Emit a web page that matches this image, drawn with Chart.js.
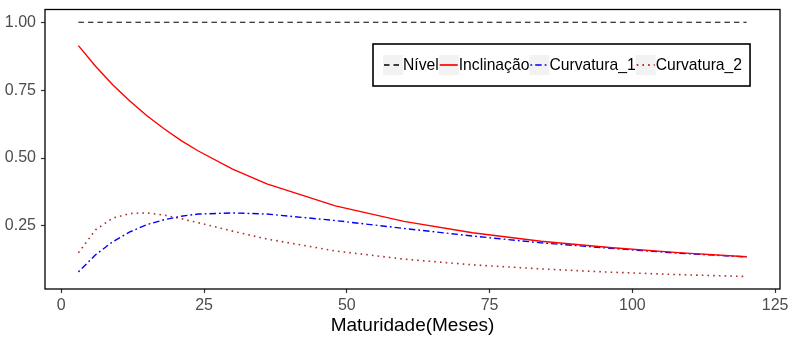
<!DOCTYPE html>
<html>
<head>
<meta charset="utf-8">
<script src="https://cdn.jsdelivr.net/npm/chart.js@4/dist/chart.umd.min.js"></script>
<style>
  html, body { margin: 0; padding: 0; background: #ffffff; }
  #wrap { width: 792px; height: 338px; position: relative; }
</style>
</head>
<body>
<div id="wrap"><canvas id="c" width="792" height="338"></canvas></div>
<script>
// ---- data ----
const maturidades = [3, 6, 9, 12, 15, 18, 21, 24, 30, 36, 48, 60, 72, 84, 96, 108, 120];
const nivel      = [1, 1, 1, 1, 1, 1, 1, 1, 1, 1, 1, 1, 1, 1, 1, 1, 1];
const inclinacao = [0.914, 0.838, 0.770, 0.710, 0.656, 0.608, 0.564, 0.526, 0.459, 0.405, 0.324, 0.267, 0.225, 0.194, 0.171, 0.152, 0.137];
const curvatura1 = [0.081, 0.144, 0.192, 0.228, 0.255, 0.273, 0.286, 0.294, 0.298, 0.294, 0.270, 0.241, 0.213, 0.188, 0.168, 0.150, 0.136];
const curvatura2 = [0.151, 0.236, 0.279, 0.296, 0.298, 0.290, 0.277, 0.262, 0.231, 0.202, 0.158, 0.128, 0.107, 0.092, 0.080, 0.071, 0.064];
const seriesNames = ['Nível', 'Inclinação', 'Curvatura_1', 'Curvatura_2'];
const xTicks = [0, 25, 50, 75, 100, 125];
const yTicks = [0.25, 0.50, 0.75, 1.00];
const xTitle = 'Maturidade(Meses)';

const FONT = '"Liberation Sans", Arial, Helvetica, sans-serif';

function pts(ys) { return maturidades.map((m, i) => ({ x: m, y: ys[i] })); }

const styles = [
  { color: '#000000', dash: [5.5, 4], width: 1.2 },
  { color: '#ff0000', dash: [], width: 1.4 },
  { color: '#0000ff', dash: [1.8, 3, 6.5, 3], width: 1.4 },
  { color: '#b03030', dash: [1.6, 4.1], width: 1.6 }
];
const seriesData = [nivel, inclinacao, curvatura1, curvatura2];

const datasets = seriesData.map((d, i) => ({
  label: seriesNames[i],
  data: pts(d),
  borderColor: styles[i].color,
  borderDash: styles[i].dash,
  borderWidth: styles[i].width,
  pointRadius: 0,
  fill: false,
  tension: 0
}));

const frameAndLegend = {
  id: 'frameAndLegend',
  afterDatasetsDraw(chart) {
    const { ctx, chartArea: a } = chart;
    ctx.save();
    ctx.strokeStyle = '#000';
    ctx.lineWidth = 1.3;
    ctx.strokeRect(a.left, a.top, a.right - a.left, a.bottom - a.top);

    // legend box
    const bx = 373, by = 44, bh = 42, keyW = 20, keyH = 20;
    ctx.font = '15.7px ' + FONT;
    let total = 0;
    chart.data.datasets.forEach(ds => { total += keyW + ctx.measureText(ds.label).width; });
    const bw = total + 10 + 8;
    ctx.fillStyle = '#fff';
    ctx.fillRect(bx, by, bw, bh);
    ctx.lineWidth = 1.6;
    ctx.strokeStyle = '#000';
    ctx.strokeRect(bx, by, bw, bh);
    let x = bx + 10;
    const ky = by + (bh - keyH) / 2;
    chart.data.datasets.forEach(ds => {
      ctx.fillStyle = '#f2f2f2';
      ctx.fillRect(x, ky, keyW, keyH);
      ctx.beginPath();
      ctx.setLineDash(ds.borderDash);
      ctx.strokeStyle = ds.borderColor;
      ctx.lineWidth = ds.borderWidth + 0.3;
      ctx.moveTo(x + 1, ky + keyH / 2);
      ctx.lineTo(x + keyW - 1, ky + keyH / 2);
      ctx.stroke();
      ctx.setLineDash([]);
      x += keyW;
      ctx.fillStyle = '#000';
      ctx.textBaseline = 'middle';
      ctx.textAlign = 'left';
      ctx.fillText(ds.label, x, ky + keyH / 2 + 1);
      x += ctx.measureText(ds.label).width;
    });
    ctx.restore();
  }
};

new Chart(document.getElementById('c'), {
  type: 'line',
  data: { datasets },
  options: {
    responsive: false,
    animation: false,
    events: [],
    layout: { padding: { top: 9.5, right: 12, left: 0, bottom: 0 } },
    plugins: { legend: { display: false }, tooltip: { enabled: false }, title: { display: false } },
    scales: {
      x: {
        type: 'linear',
        min: -2.85,
        max: 125.85,
        afterBuildTicks: s => { s.ticks = xTicks.map(v => ({ value: v })); },
        afterFit: s => { s.height = 49; s.paddingLeft = 0; s.paddingRight = 0; },
        grid: { drawOnChartArea: false, drawTicks: true, tickLength: 4, tickColor: '#333', tickWidth: 1.2 },
        border: { display: false },
        ticks: { font: { family: FONT, size: 16 }, color: '#4d4d4d', padding: 3, maxRotation: 0,
                 callback: v => String(v) },
        title: { display: true, text: xTitle, color: '#000', font: { family: FONT, size: 19 }, padding: { top: 0, bottom: 1 } }
      },
      y: {
        type: 'linear',
        min: 0.018,
        max: 1.047,
        afterBuildTicks: s => { s.ticks = yTicks.map(v => ({ value: v })); },
        afterFit: s => { s.width = 45; s.paddingTop = 0; s.paddingBottom = 0; },
        grid: { drawOnChartArea: false, drawTicks: true, tickLength: 4, tickColor: '#333', tickWidth: 1.2 },
        border: { display: false },
        ticks: { font: { family: FONT, size: 16 }, color: '#4d4d4d', padding: 5,
                 callback: v => Number(v).toFixed(2) }
      }
    }
  },
  plugins: [frameAndLegend]
});
</script>
</body>
</html>
